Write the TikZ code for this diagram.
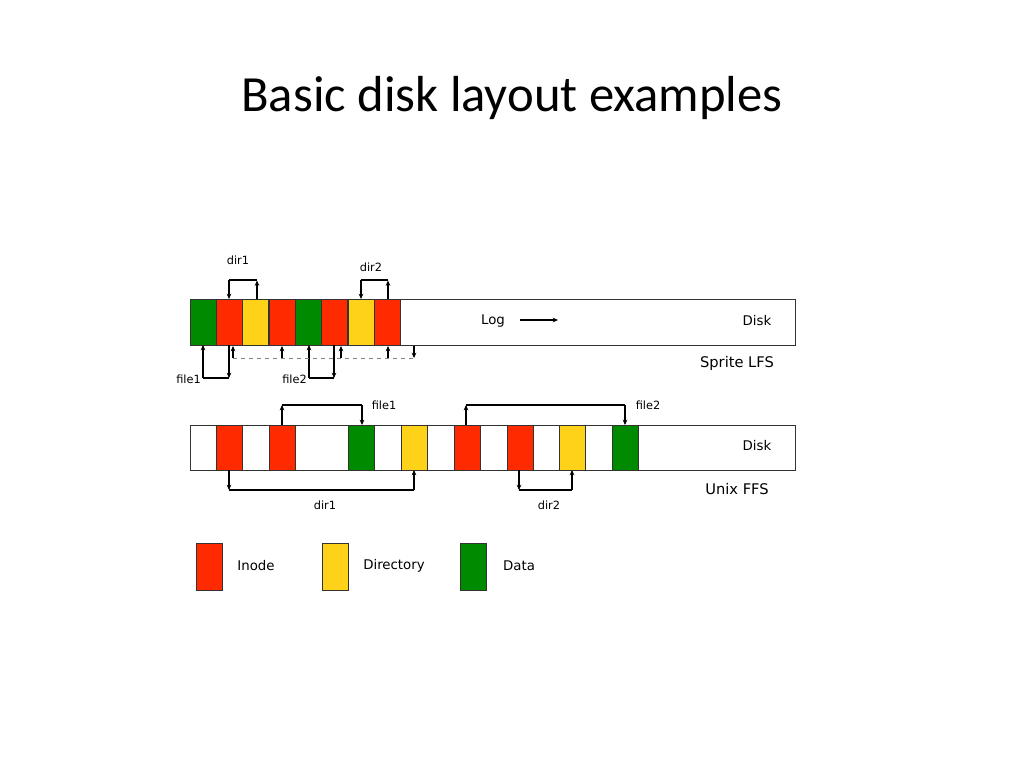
\documentclass[tikz,border=0pt]{standalone}
\usepackage{fontspec}
\setmainfont{DejaVu Sans}
\newfontfamily\titlefont{Carlito}
\usetikzlibrary{arrows.meta}
\definecolor{ired}{HTML}{FF2A00}
\definecolor{dyel}{HTML}{FFD21A}
\definecolor{dgrn}{HTML}{008A00}
\begin{document}
\begin{tikzpicture}[x=0.75pt,y=-0.75pt,
  blk/.style={draw=black!80,line width=0.6pt},
  ptr/.style={line width=1.1pt,-{Stealth[length=4pt,width=3.5pt]}},
  lnk/.style={line width=1.1pt},
  lab/.style={font=\fontsize{8.5}{10}\selectfont,inner sep=0pt},
  big/.style={font=\fontsize{11}{13}\selectfont,inner sep=0pt}]
\useasboundingbox (0,0) rectangle (1024,768);
\node[font=\titlefont\fontsize{38}{44}\selectfont] (title) at (512,98) {Basic disk layout examples};
% LFS
\draw[blk,fill=white] (190,299) rectangle (795,345);
\foreach \x/\c in {190/dgrn,216/ired,242/dyel,269/ired,295/dgrn,321/ired,348/dyel,374/ired}
  \draw[blk,fill=\c] (\x,299) rectangle ++(26.3,46);
\node[lab] (dA) at (238,260) {dir1};
\node[lab] (dB) at (371,267) {dir2};
\draw[lnk] (257,280) -- (229,280); \draw[ptr] (229,280) -- (229,299);
\draw[ptr] (257,299) -- (257,280.5);
\draw[lnk] (388,280) -- (361,280); \draw[ptr] (361,280) -- (361,299);
\draw[ptr] (388,299) -- (388,280.5);
\node[lab,anchor=east] (fA) at (201,379) {file1};
\node[lab,anchor=east] (fB) at (307,379) {file2};
\draw[ptr] (203,378) -- (203,345); \draw[lnk] (203,378) -- (229,378); \draw[ptr] (229,345) -- (229,378);
\draw[ptr] (309,378) -- (309,345); \draw[lnk] (309,378) -- (334,378); \draw[ptr] (334,345) -- (334,378);
\draw[dashed,gray,line width=0.7pt] (233,358) -- (414,358);
\foreach \x in {233,282,341,388} \draw[line width=0.9pt,-{Stealth[length=4pt,width=3.5pt]}] (\x,358) -- (\x,346);
\draw[line width=0.9pt,-{Stealth[length=4pt,width=3.5pt]}] (414,346) -- (414,358);
\node[lab,font=\fontsize{10}{12}\selectfont] (log) at (493,321) {Log};
\draw[ptr] (520,320) -- (558,320);
\node[lab,font=\fontsize{10}{12}\selectfont] (disk1) at (757,321) {Disk};
\node[big] (lfs) at (737,363) {Sprite LFS};
% FFS
\draw[blk,fill=white] (190,425) rectangle (795,470);
\foreach \x in {242,374,427,480,533,585}
  \draw[blk] (\x,425) -- (\x,470);
\foreach \x/\c in {216/ired,269/ired,348/dgrn,401/dyel,454/ired,507/ired,559/dyel,612/dgrn}
  \draw[blk,fill=\c] (\x,425) rectangle ++(26.3,45);
\draw[ptr] (282,425) -- (282,405); \draw[lnk] (282,405) -- (362,405); \draw[ptr] (362,405) -- (362,425);
\node[lab] (ff1) at (384,405) {file1};
\draw[ptr] (466,425) -- (466,405); \draw[lnk] (466,405) -- (625,405); \draw[ptr] (625,405) -- (625,425);
\node[lab] (ff2) at (648,405) {file2};
\draw[ptr] (229,470) -- (229,490); \draw[lnk] (229,490) -- (414,490); \draw[ptr] (414,490) -- (414,470);
\node[lab] (fd1) at (325,505) {dir1};
\draw[ptr] (519,470) -- (519,490); \draw[lnk] (519,490) -- (572,490); \draw[ptr] (572,490) -- (572,470);
\node[lab] (fd2) at (549,505) {dir2};
\node[lab,font=\fontsize{10}{12}\selectfont] (disk2) at (757,446) {Disk};
\node[big] (ffs) at (737,489) {Unix FFS};
% legend
\draw[blk,fill=ired] (196,543) rectangle (222,590);
\node[lab,font=\fontsize{10}{12}\selectfont] (li) at (256,566) {Inode};
\draw[blk,fill=dyel] (322,543) rectangle (348,590);
\node[lab,font=\fontsize{10}{12}\selectfont] (ld) at (394,566) {Directory};
\draw[blk,fill=dgrn] (460,543) rectangle (486,590);
\node[lab,font=\fontsize{10}{12}\selectfont] (la) at (519,566) {Data};
\end{tikzpicture}
\end{document}
